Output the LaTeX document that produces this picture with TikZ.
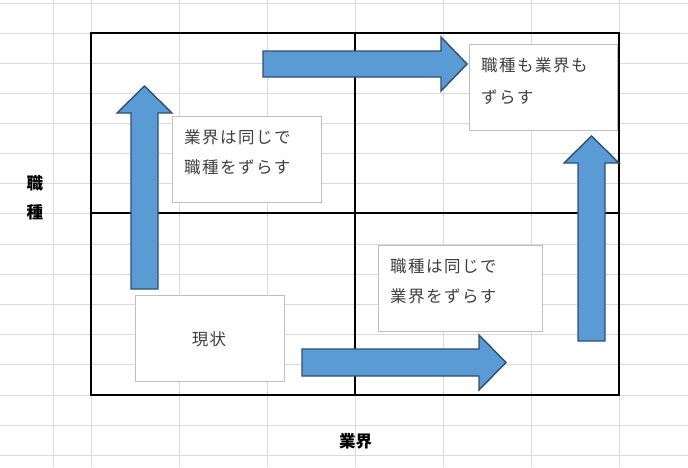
\documentclass[tikz,border=0pt]{standalone}
\usepackage{fontspec}
\newfontfamily\cjklabel{Noto Sans CJK JP}
\newfontfamily\cjkbox[LetterSpace=9]{Noto Sans CJK JP}
\definecolor{gridc}{HTML}{DADADA}
\definecolor{arrowfill}{HTML}{5B9BD5}
\definecolor{arrowline}{HTML}{2F4F70}
\definecolor{boxline}{HTML}{BFBFBF}
\definecolor{boxtext}{HTML}{404040}
\begin{document}
\begin{tikzpicture}[x=1pt,y=-1pt,
  gridline/.style={draw=gridc,line width=1pt},
  frameline/.style={draw=black,line width=2pt},
  blockarrow/.style={fill=arrowfill,draw=arrowline,line width=1.4pt,line join=miter},
  textbox/.style={draw=boxline,line width=1pt,fill=white,rectangle,inner sep=0pt,anchor=north west},
  boxtxt/.style={font=\cjkbox\fontsize{16.5}{20}\selectfont,text=boxtext,anchor=base west,inner sep=0pt},
  axislabel/.style={font=\cjklabel\bfseries\fontsize{16.5}{20}\selectfont,text=black,inner sep=0pt}
]
\useasboundingbox (0,0) rectangle (688,467);
\fill[white] (0,0) rectangle (688,467);
% spreadsheet grid
\foreach \gx in {53,91,179,267,355,443,531,619}
  \draw[gridline] (\gx,0) -- (\gx,467);
\foreach \gy in {3,33,63,93,123,153,183,213,244,274,304,334,364,395,425,455}
  \draw[gridline] (0,\gy) -- (688,\gy);
% frame
\coordinate (tl) at (91,33);
\coordinate (br) at (619,395);
\coordinate (mt) at (355,33);
\coordinate (mb) at (355,395);
\coordinate (ml) at (91,213);
\coordinate (mr) at (619,213);
\draw[frameline] (tl) rectangle (br);
\draw[frameline] (mt) -- (mb);
\draw[frameline] (ml) -- (mr);
% block arrows
\draw[blockarrow] (131,289) -- (131,113) -- (117,113) -- (144.5,86) -- (172,113) -- (158,113) -- (158,289) -- cycle;
\draw[blockarrow] (263,51) -- (441,51) -- (441,37) -- (467,64) -- (441,91) -- (441,77) -- (263,77) -- cycle;
\draw[blockarrow] (578,341) -- (578,163) -- (564,163) -- (591.5,136) -- (619,163) -- (605,163) -- (605,341) -- cycle;
\draw[blockarrow] (302,349) -- (479,349) -- (479,335) -- (506,362.5) -- (479,390) -- (479,376) -- (302,376) -- cycle;
% text boxes
\node[textbox,minimum width=149pt,minimum height=86pt] (boxA) at (172,116) {};
\node[boxtxt] (boxA1) at (184,143.5) {業界は同じで};
\node[boxtxt] (boxA2) at (184,173.5) {職種をずらす};
\node[textbox,minimum width=148pt,minimum height=86pt] (boxB) at (469,44) {};
\node[boxtxt] (boxB1) at (481,71.5) {職種も業界も};
\node[boxtxt] (boxB2) at (481,103) {ずらす};
\node[textbox,minimum width=164pt,minimum height=86pt] (boxC) at (378,245) {};
\node[boxtxt] (boxC1) at (390,272.5) {職種は同じで};
\node[boxtxt] (boxC2) at (390,302.5) {業界をずらす};
\node[textbox,minimum width=149pt,minimum height=86pt] (boxD) at (135,295) {};
\node[font=\cjkbox\fontsize{16.5}{20}\selectfont,text=boxtext,inner sep=0pt] (boxD1) at (209,339) {現状};
% axis labels
\node[axislabel] (ylab1) at (35,183.5) {職};
\node[axislabel] (ylab2) at (35,212.5) {種};
\node[axislabel] (xlab) at (355.5,441) {業界};
\end{tikzpicture}
\end{document}
